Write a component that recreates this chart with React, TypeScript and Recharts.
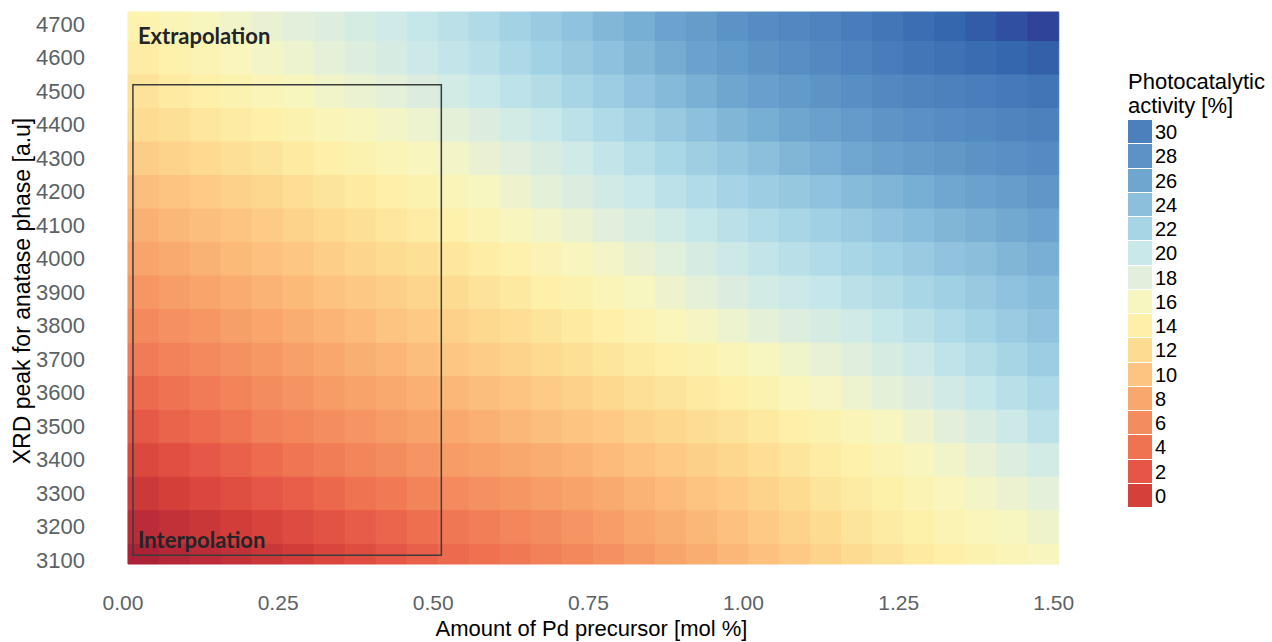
import React from 'react';
import { ScatterChart, XAxis, YAxis, ReferenceArea, Label, Legend } from 'recharts';

// column centres, mol % Pd precursor
const pdAmounts = [
  0.033, 0.083, 0.133, 0.183, 0.233, 0.283, 0.333, 0.383, 0.433, 0.483,
  0.533, 0.583, 0.633, 0.683, 0.733, 0.783, 0.833, 0.883, 0.933, 0.983,
  1.033, 1.083, 1.133, 1.183, 1.233, 1.283, 1.333, 1.383, 1.433, 1.483,
];

// row centres, XRD peak [a.u]
const xrdPeaks = [3100, 3200, 3300, 3400, 3500, 3600, 3700, 3800, 3900, 4000, 4100, 4200, 4300, 4400, 4500, 4600, 4700];

// photocatalytic activity [%], one row per xrdPeaks entry, one value per pdAmounts entry
const activity = [
  [-3.3, -2.7, -2.2, -1.6, -1.0, -0.3, 0.5, 1.2, 2.0, 2.7, 3.4, 3.9, 4.5, 5.0, 5.6, 6.3, 7.0, 7.7, 8.4, 9.1, 9.8, 10.5, 11.3, 12.0, 12.7, 13.4, 14.0, 14.6, 15.2, 15.8],
  [-2.2, -1.6, -1.0, -0.3, 0.3, 1.0, 1.7, 2.4, 3.1, 3.8, 4.4, 4.9, 5.5, 6.0, 6.6, 7.2, 7.9, 8.5, 9.1, 9.8, 10.5, 11.3, 12.0, 12.8, 13.5, 14.2, 14.9, 15.5, 16.1, 16.8],
  [-0.8, -0.1, 0.6, 1.3, 2.0, 2.6, 3.3, 4.0, 4.6, 5.3, 5.8, 6.3, 6.7, 7.2, 7.6, 8.2, 8.8, 9.4, 10.0, 10.6, 11.3, 12.0, 12.8, 13.5, 14.2, 15.0, 15.7, 16.4, 17.1, 17.8],
  [0.7, 1.4, 2.1, 2.8, 3.5, 4.2, 4.8, 5.4, 6.0, 6.6, 7.1, 7.5, 8.0, 8.4, 8.8, 9.4, 9.9, 10.5, 11.0, 11.6, 12.2, 12.9, 13.6, 14.3, 15.0, 15.8, 16.6, 17.5, 18.3, 19.2],
  [2.2, 2.9, 3.6, 4.3, 5.0, 5.5, 6.1, 6.6, 7.1, 7.6, 8.1, 8.6, 9.1, 9.6, 10.0, 10.5, 11.1, 11.6, 12.1, 12.6, 13.3, 14.0, 14.7, 15.4, 16.1, 16.9, 17.9, 18.8, 19.7, 20.7],
  [3.4, 4.1, 4.7, 5.3, 6.0, 6.5, 7.1, 7.6, 8.1, 8.6, 9.1, 9.6, 10.1, 10.6, 11.1, 11.7, 12.3, 12.8, 13.4, 14.0, 14.7, 15.5, 16.2, 17.0, 17.7, 18.5, 19.3, 20.1, 20.9, 21.7],
  [4.7, 5.2, 5.7, 6.3, 6.8, 7.4, 7.9, 8.5, 9.0, 9.6, 10.2, 10.7, 11.2, 11.8, 12.3, 12.9, 13.5, 14.1, 14.7, 15.3, 16.0, 16.7, 17.5, 18.2, 18.9, 19.7, 20.5, 21.2, 22.0, 22.7],
  [5.7, 6.2, 6.7, 7.3, 7.8, 8.4, 8.9, 9.4, 10.0, 10.5, 11.1, 11.7, 12.2, 12.8, 13.4, 14.1, 14.8, 15.6, 16.3, 17.0, 17.7, 18.3, 18.9, 19.5, 20.1, 20.8, 21.5, 22.2, 22.9, 23.6],
  [6.7, 7.2, 7.7, 8.3, 8.8, 9.3, 9.9, 10.4, 10.9, 11.4, 12.0, 12.7, 13.3, 14.0, 14.6, 15.3, 16.1, 16.9, 17.7, 18.5, 19.2, 19.7, 20.2, 20.8, 21.3, 21.9, 22.5, 23.1, 23.7, 24.3],
  [7.7, 8.2, 8.7, 9.3, 9.8, 10.3, 10.9, 11.4, 11.9, 12.4, 13.0, 13.7, 14.4, 15.1, 15.8, 16.5, 17.3, 18.1, 18.9, 19.7, 20.3, 20.9, 21.4, 21.9, 22.4, 23.0, 23.6, 24.1, 24.7, 25.3],
  [8.6, 9.1, 9.6, 10.1, 10.6, 11.2, 11.8, 12.4, 13.0, 13.6, 14.3, 15.0, 15.8, 16.5, 17.2, 18.0, 18.7, 19.4, 20.1, 20.8, 21.4, 21.9, 22.5, 23.0, 23.6, 24.2, 24.7, 25.2, 25.8, 26.3],
  [9.6, 10.1, 10.6, 11.1, 11.6, 12.2, 12.8, 13.4, 14.0, 14.6, 15.3, 16.1, 16.9, 17.7, 18.5, 19.3, 20.0, 20.7, 21.4, 22.1, 22.7, 23.2, 23.7, 24.3, 24.8, 25.4, 25.9, 26.5, 27.0, 27.6],
  [10.8, 11.3, 11.8, 12.3, 12.8, 13.4, 14.0, 14.6, 15.2, 15.8, 16.5, 17.3, 18.0, 18.8, 19.5, 20.3, 21.1, 21.8, 22.6, 23.3, 24.0, 24.7, 25.3, 25.9, 26.6, 27.1, 27.5, 28.0, 28.4, 28.8],
  [11.9, 12.4, 13.0, 13.5, 14.1, 14.7, 15.3, 15.8, 16.4, 17.0, 17.7, 18.5, 19.2, 20.0, 20.7, 21.5, 22.3, 23.1, 23.9, 24.7, 25.4, 26.0, 26.6, 27.2, 27.8, 28.3, 28.7, 29.1, 29.5, 29.9],
  [12.7, 13.4, 14.0, 14.6, 15.3, 15.9, 16.6, 17.2, 17.8, 18.5, 19.2, 19.9, 20.6, 21.3, 22.0, 22.7, 23.6, 24.4, 25.2, 26.0, 26.7, 27.3, 27.9, 28.5, 29.1, 29.5, 29.9, 30.2, 30.5, 30.9],
  [13.6, 14.3, 15.0, 15.7, 16.4, 17.0, 17.7, 18.3, 18.9, 19.6, 20.3, 20.9, 21.7, 22.4, 23.1, 23.8, 24.7, 25.5, 26.4, 27.2, 27.9, 28.5, 29.1, 29.7, 30.3, 30.8, 31.2, 31.6, 32.0, 32.4],
  [14.5, 15.2, 15.9, 16.6, 17.3, 17.9, 18.4, 19.0, 19.5, 20.1, 20.8, 21.5, 22.3, 23.0, 23.7, 24.6, 25.4, 26.3, 27.1, 28.0, 28.7, 29.2, 29.7, 30.3, 30.8, 31.4, 32.0, 32.6, 33.2, 33.8],
];

const xTicks = [0, 0.25, 0.5, 0.75, 1.0, 1.25, 1.5];
const yTicks = [3100, 3200, 3300, 3400, 3500, 3600, 3700, 3800, 3900, 4000, 4100, 4200, 4300, 4400, 4500, 4600, 4700];
const legendSteps = [30, 28, 26, 24, 22, 20, 18, 16, 14, 12, 10, 8, 6, 4, 2, 0];

// colour scale (value -> colour)
const scaleValues = [-4, 0, 2, 4, 6, 8, 10, 12, 14, 16, 18, 20, 22, 24, 26, 28, 30, 32, 34];
const scaleColours = [
  '#a41b36', '#d6403a', '#e55646', '#ef7251', '#f48d5e', '#f9a86d', '#fdc380', '#fddc92', '#fef0a8',
  '#f8f6c0', '#e2efdc', '#c8e8ea', '#a7d5e6', '#8bbfdc', '#6fa6cf', '#5b93c6', '#4b80bd', '#3468ae', '#2e3f96',
];

// interpolation box (training region)
const boxX = [0.016, 0.513];
const boxY = [3114, 4518];

const X_MIN = 0;
const X_MAX = 1.51;
const Y_MIN = 3088;
const Y_MAX = 4735;
const CELL_W = 0.05;
const CELL_H = 100;

const sans = '"Liberation Sans", Arial, Helvetica, sans-serif';

const hex = (c: string) => [1, 3, 5].map((i) => parseInt(c.slice(i, i + 2), 16));

function activityColour(v: number) {
  if (v <= scaleValues[0]) return scaleColours[0];
  const last = scaleValues.length - 1;
  if (v >= scaleValues[last]) return scaleColours[last];
  let i = 0;
  while (v > scaleValues[i + 1]) i++;
  const t = (v - scaleValues[i]) / (scaleValues[i + 1] - scaleValues[i]);
  const a = hex(scaleColours[i]);
  const b = hex(scaleColours[i + 1]);
  const rgb = a.map((c, k) => Math.round(c + (b[k] - c) * t));
  return `rgb(${rgb.join(',')})`;
}

function YTitle({ viewBox }: any) {
  const x = viewBox.x + 30;
  const y = viewBox.y + viewBox.height / 2 + 3;
  return (
    <text x={x} y={y} transform={`rotate(-90, ${x}, ${y})`} textAnchor="middle" fontSize={23} fontFamily={sans} fill="#000">
      XRD peak for anatase phase [a.u]
    </text>
  );
}

function BoxLabels({ viewBox }: any) {
  const style = { fontFamily: 'Lato, "Open Sans", sans-serif', fontWeight: 700, fontSize: 22, fill: '#1f2528' };
  return (
    <g>
      <text x={viewBox.x + 5} y={viewBox.y - 41} style={style}>Extrapolation</text>
      <text x={viewBox.x + 5} y={viewBox.y + viewBox.height - 7} style={style}>Interpolation</text>
    </g>
  );
}

function ActivityLegend() {
  return (
    <div style={{ fontFamily: sans, color: '#000', textAlign: 'left' }}>
      <div style={{ fontSize: 22, lineHeight: '24px' }}>
        Photocatalytic
        <br />
        activity [%]
      </div>
      <div style={{ marginTop: 2 }}>
        {legendSteps.map((v) => (
          <div key={v} style={{ display: 'flex', alignItems: 'center', height: 24.25 }}>
            <div style={{ width: 24, height: 23.25, marginBottom: 1, background: activityColour(v) }} />
            <span style={{ fontSize: 20, marginLeft: 3, lineHeight: '24px' }}>{v}</span>
          </div>
        ))}
      </div>
    </div>
  );
}

export default function App() {
  const cells = xrdPeaks.flatMap((y, r) =>
    pdAmounts.map((x, c) => {
      const fill = activityColour(activity[r][c]);
      return (
        <ReferenceArea
          key={`${r}-${c}`}
          x1={x - CELL_W / 2}
          x2={x + CELL_W / 2}
          y1={Math.max(y - CELL_H / 2, Y_MIN)}
          y2={Math.min(y + CELL_H / 2, Y_MAX)}
          fill={fill}
          fillOpacity={1}
          stroke={fill}
          strokeWidth={1}
        />
      );
    })
  );

  return (
    <div style={{ position: 'absolute', left: 0, top: 0, width: 1272, height: 642, background: '#fff' }}>
      <ScatterChart width={1272} height={642} margin={{ top: 12, right: 212, bottom: 0, left: 0 }}>
        <XAxis
          type="number"
          dataKey="x"
          domain={[X_MIN, X_MAX]}
          ticks={xTicks}
          interval={0}
          allowDataOverflow
          tickFormatter={(v: number) => v.toFixed(2)}
          axisLine={false}
          tickLine={false}
          tickMargin={25}
          height={78}
          tick={{ fontSize: 21, fill: '#5b6266', fontFamily: sans }}
        >
          <Label value="Amount of Pd precursor [mol %]" position="insideBottom" offset={6} fontSize={22} fill="#000" fontFamily={sans} />
        </XAxis>
        <YAxis
          type="number"
          dataKey="y"
          domain={[Y_MIN, Y_MAX]}
          ticks={yTicks}
          interval={0}
          allowDataOverflow
          width={123}
          axisLine={false}
          tickLine={false}
          tickMargin={32}
          tick={{ fontSize: 22, fill: '#5b6266', fontFamily: sans }}
        >
          <Label content={YTitle} />
        </YAxis>
        {cells}
        <ReferenceArea
          x1={boxX[0]}
          x2={boxX[1]}
          y1={boxY[0]}
          y2={boxY[1]}
          fill="none"
          stroke="#3c3c3c"
          strokeWidth={1.5}
        >
          <Label content={BoxLabels} />
        </ReferenceArea>
        <Legend
          layout="vertical"
          align="center"
          verticalAlign="middle"
          wrapperStyle={{ left: 1128, top: 70, width: 144 }}
          content={ActivityLegend}
        />
      </ScatterChart>
    </div>
  );
}
